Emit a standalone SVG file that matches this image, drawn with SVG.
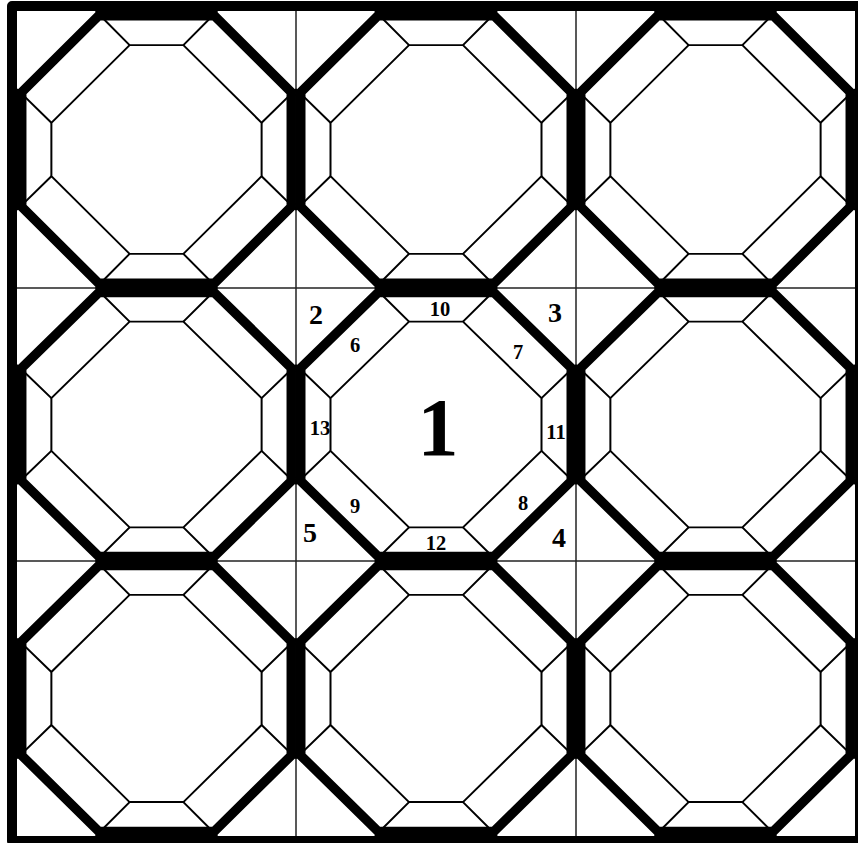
<svg xmlns="http://www.w3.org/2000/svg" xmlns:xlink="http://www.w3.org/1999/xlink" width="858" height="843" viewBox="0 0 858 843">
<style>
.bg{fill:#ffffff}
.outer{fill:none;stroke:#000;stroke-width:9.5;stroke-linejoin:miter}
.inner{fill:none;stroke:#000;stroke-width:2}
.grid{stroke:#222;stroke-width:1.5;fill:none}
.frame{fill:none;stroke:#000;stroke-width:10;stroke-linejoin:round}
.big{font-family:"Liberation Serif","Times New Roman",serif;font-weight:bold;font-size:28px;text-anchor:middle}
.small{font-family:"Liberation Serif","Times New Roman",serif;font-weight:bold;font-size:20.5px;text-anchor:middle}
.huge{font-family:"Liberation Serif","Times New Roman",serif;font-weight:bold;font-size:82px;text-anchor:middle}
</style>
<defs>
<g id="block">
<path class="inner" d="M113,34.5 L79,0 M167,34.5 L201,0 M245.5,113 L280,79 M245.5,167 L280,201 M167,245.5 L201,280 M113,245.5 L79,280 M34.5,167 L0,201 M34.5,113 L0,79"/>
<polygon class="inner" points="113,34.5 167,34.5 245.5,113 245.5,167 167,245.5 113,245.5 34.5,167 34.5,113"/>
<polygon class="outer" points="81.97,4.75 198.03,4.75 275.25,81.97 275.25,198.03 198.03,275.25 81.97,275.25 4.75,198.03 4.75,81.97"/>
</g>
</defs>
<rect class="bg" x="0" y="0" width="858" height="843"/>
<g id="connectors">
<line class="grid" x1="296" y1="11" x2="296" y2="836"/>
<line class="grid" x1="576" y1="11" x2="576" y2="836"/>
<line class="grid" x1="17" y1="288" x2="855" y2="288"/>
<line class="grid" x1="17" y1="561" x2="855" y2="561"/>
</g>
<g id="block-1"><use xlink:href="#block" transform="translate(17,11) scale(0.9964,0.9893)"/></g>
<g id="block-2"><use xlink:href="#block" transform="translate(296,11) scale(1,0.9893)"/></g>
<g id="block-3"><use xlink:href="#block" transform="translate(576,11) scale(0.9964,0.9893)"/></g>
<g id="block-4"><use xlink:href="#block" transform="translate(17,288) scale(0.9964,0.975)"/></g>
<g id="block-5">
<use xlink:href="#block" transform="translate(296,288) scale(1,0.975)"/>
<text class="huge" x="438" y="455">1</text>
<text class="big" x="316" y="324">2</text>
<text class="big" x="555" y="322">3</text>
<text class="big" x="559" y="547">4</text>
<text class="big" x="310" y="542">5</text>
<text class="small" x="355" y="352">6</text>
<text class="small" x="518" y="359">7</text>
<text class="small" x="523" y="510">8</text>
<text class="small" x="355" y="513">9</text>
<text class="small" x="440" y="316">10</text>
<text class="small" x="556" y="439">11</text>
<text class="small" x="436" y="550">12</text>
<text class="small" x="320" y="435">13</text>
</g>
<g id="block-6"><use xlink:href="#block" transform="translate(576,288) scale(0.9964,0.975)"/></g>
<g id="block-7"><use xlink:href="#block" transform="translate(17,561) scale(0.9964,0.982)"/></g>
<g id="block-8"><use xlink:href="#block" transform="translate(296,561) scale(1,0.982)"/></g>
<g id="block-9"><use xlink:href="#block" transform="translate(576,561) scale(0.9964,0.982)"/></g>
<g id="frame"><rect class="frame" x="12" y="6" width="848" height="835"/></g>
</svg>
